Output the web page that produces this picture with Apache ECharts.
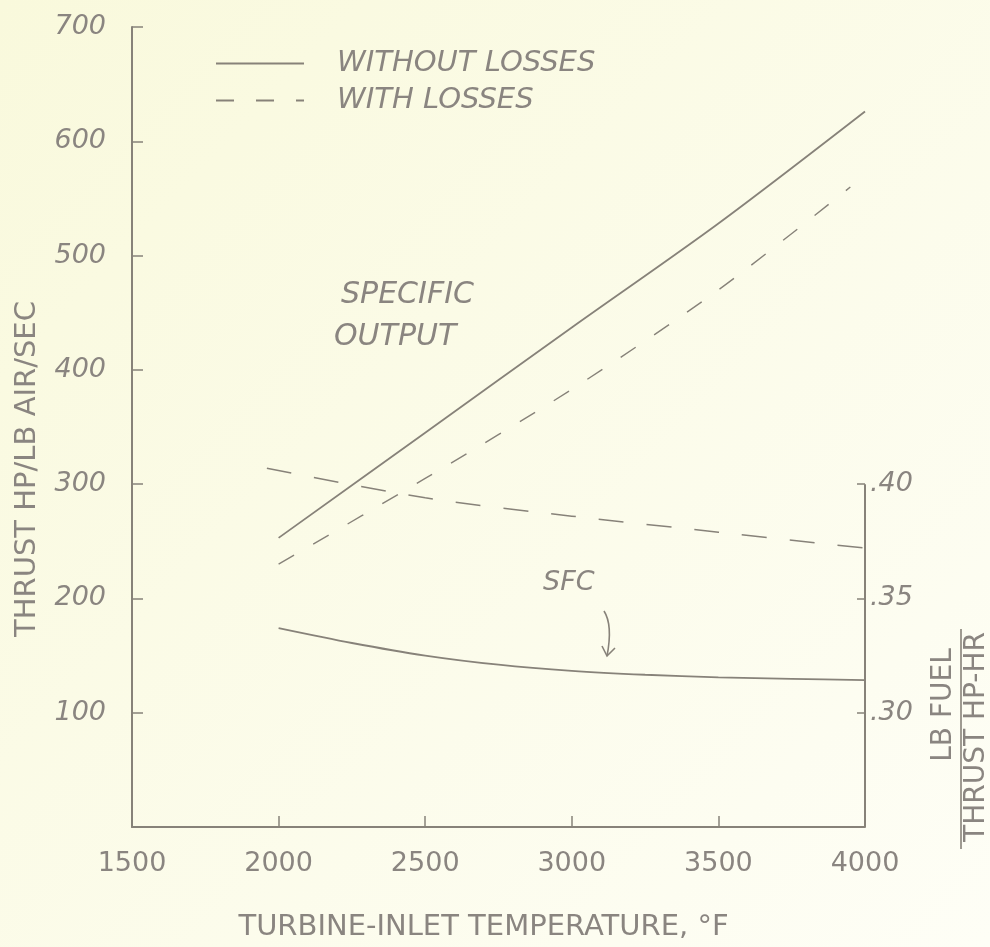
<!DOCTYPE html>
<html>
<head>
<meta charset="utf-8">
<script src="https://cdn.jsdelivr.net/npm/echarts@6/dist/echarts.min.js"></script>
<style>
  html, body { margin: 0; padding: 0; background: #fcfce8; }
  #chart { width: 990px; height: 947px; }
</style>
</head>
<body>
<div id="chart"></div>
<script>
// ---- data ----
const xTickLabels = [1500, 2000, 2500, 3000, 3500, 4000];
const leftTicks = [100, 200, 300, 400, 500, 600, 700];
const rightTicks = [0.30, 0.35, 0.40];

// specific output (thrust hp / lb air / sec)
const specNoLossTemps = [2000, 2500, 3000, 3500, 4000];
const specNoLoss = [253, 345, 437, 528, 626];
const specLossTemps = [2000, 2500, 3000, 3500, 3950];
const specLoss = [230, 305, 383, 470, 560];

// SFC (lb fuel / thrust hp-hr)
const sfcNoLossTemps = [2000, 2250, 2500, 2750, 3000, 3250, 3500, 3750, 4000];
const sfcNoLoss = [0.3370, 0.3305, 0.3250, 0.3210, 0.3183, 0.3166, 0.3155, 0.3148, 0.3143];
const sfcLossTemps = [1960, 2500, 3000, 3500, 4000];
const sfcLoss = [0.407, 0.394, 0.386, 0.379, 0.372];

const legendNames = ['WITHOUT LOSSES', 'WITH LOSSES'];

// ---- styling ----
const ink = '#8a8580';
const lineInk = '#878279';
const font = 'DejaVu Sans';
const rightMin = 0.25, rightMax = 0.60;
const zip = (xs, ys) => xs.map((x, i) => [x, ys[i]]);

const chart = echarts.init(document.getElementById('chart'));
chart.setOption({
  backgroundColor: {
    type: 'linear', x: 0, y: 0, x2: 1, y2: 1,
    colorStops: [{ offset: 0, color: '#f9f9dc' }, { offset: 1, color: '#fefef6' }]
  },
  animation: false,
  textStyle: { fontFamily: font, color: ink },
  grid: { left: 132, right: 125, top: 27, bottom: 117 },
  legend: {
    left: 210, top: 44, orient: 'vertical', itemGap: 8,
    itemWidth: 88, itemHeight: 6,
    data: legendNames,
    itemStyle: { opacity: 0 },
    textStyle: { fontFamily: font, fontSize: 29, fontStyle: 'italic', color: ink, padding: [0, 0, 0, 28] },
    selectedMode: false
  },
  xAxis: {
    type: 'value', min: 1500, max: 4000, interval: 500,
    name: 'TURBINE-INLET TEMPERATURE, °F',
    nameLocation: 'middle', nameGap: 86,
    nameTextStyle: { fontFamily: font, fontSize: 29, color: ink, padding: [0, 30, 0, 0] },
    axisLine: { lineStyle: { color: lineInk, width: 2 } },
    axisTick: { show: true, inside: true, length: 11, lineStyle: { color: lineInk, width: 1.5 } },
    axisLabel: { margin: 23, fontFamily: font, fontSize: 27, color: ink, formatter: v => String(v) },
    splitLine: { show: false }
  },
  yAxis: [
    {
      type: 'value', min: 0, max: 700, interval: 100, position: 'left',
      name: 'THRUST HP/LB AIR/SEC',
      nameLocation: 'middle', nameRotate: 90, nameGap: 90,
      nameTextStyle: { fontFamily: font, fontSize: 29, color: ink, padding: [0, 84, 0, 0] },
      axisLine: { show: true, lineStyle: { color: lineInk, width: 2 } },
      axisTick: { show: true, inside: true, length: 11, lineStyle: { color: lineInk, width: 1.5 } },
      axisLabel: { customValues: leftTicks, margin: 26, fontFamily: font, fontSize: 27, fontStyle: 'italic', color: ink },
      splitLine: { show: false }
    },
    {
      type: 'value', min: rightMin, max: rightMax, interval: 0.05, position: 'right',
      axisLine: { show: false },
      axisTick: { show: true, inside: true, length: 8, customValues: rightTicks, lineStyle: { color: lineInk, width: 1.5 } },
      axisLabel: {
        customValues: rightTicks, margin: 5, fontFamily: font, fontSize: 27, fontStyle: 'italic', color: ink,
        formatter: v => '.' + Math.round(v * 100)
      },
      splitLine: { show: false }
    }
  ],
  series: [
    {
      name: legendNames[0], type: 'line', smooth: 0.3, symbol: 'none',
      data: zip(specNoLossTemps, specNoLoss),
      lineStyle: { color: lineInk, width: 1.8 }, itemStyle: { color: lineInk }
    },
    {
      name: legendNames[1], type: 'line', smooth: 0.3, symbol: 'none',
      data: zip(specLossTemps, specLoss),
      lineStyle: { color: lineInk, width: 1.4, type: [18, 22] }, itemStyle: { color: lineInk }
    },
    {
      name: legendNames[0], type: 'line', smooth: 0.3, symbol: 'none', yAxisIndex: 1,
      data: zip(sfcNoLossTemps, sfcNoLoss),
      lineStyle: { color: lineInk, width: 1.8 }, itemStyle: { color: lineInk }
    },
    {
      name: legendNames[1], type: 'line', smooth: 0.3, symbol: 'none', yAxisIndex: 1,
      data: zip(sfcLossTemps, sfcLoss),
      lineStyle: { color: lineInk, width: 1.5, type: [25, 23] }, itemStyle: { color: lineInk }
    },
    {
      // right (SFC) axis line, drawn only over the labelled range
      name: 'sfc-axis', type: 'line', symbol: 'none', yAxisIndex: 1, silent: true,
      data: [[xTickLabels[xTickLabels.length - 1], rightMin], [xTickLabels[xTickLabels.length - 1], Math.max(...rightTicks)]],
      lineStyle: { color: lineInk, width: 2 }
    }
  ],
  graphic: [
    { type: 'text', left: 341, top: 280, style: { text: 'SPECIFIC', font: 'italic 30px "DejaVu Sans"', fill: ink } },
    { type: 'text', left: 334, top: 322, style: { text: 'OUTPUT', font: 'italic 30px "DejaVu Sans"', fill: ink } },
    { type: 'text', left: 543, top: 569, style: { text: 'SFC', font: 'italic 27px "DejaVu Sans"', fill: ink } },
    { type: 'bezierCurve', shape: { x1: 604, y1: 611, cpx1: 613, cpy1: 625, x2: 607, y2: 656 }, style: { stroke: lineInk, lineWidth: 1.6, fill: null } },
    { type: 'polyline', shape: { points: [[602, 646], [607, 656], [615, 648]] }, style: { stroke: lineInk, lineWidth: 1.6, fill: null } },
    {
      type: 'group', x: 961, y: 737, rotation: Math.PI / 2,
      children: [
        { type: 'text', x: 32, y: -17, style: { text: 'LB FUEL', font: '28px "DejaVu Sans"', fill: ink, align: 'center', verticalAlign: 'middle' } },
        { type: 'line', shape: { x1: -112, y1: 0, x2: 108, y2: 0 }, style: { stroke: lineInk, lineWidth: 1.6 } },
        { type: 'text', x: 0, y: 16, style: { text: 'THRUST HP-HR', font: '28px "DejaVu Sans"', fill: ink, align: 'center', verticalAlign: 'middle' } }
      ]
    }
  ]
});
</script>
</body>
</html>
